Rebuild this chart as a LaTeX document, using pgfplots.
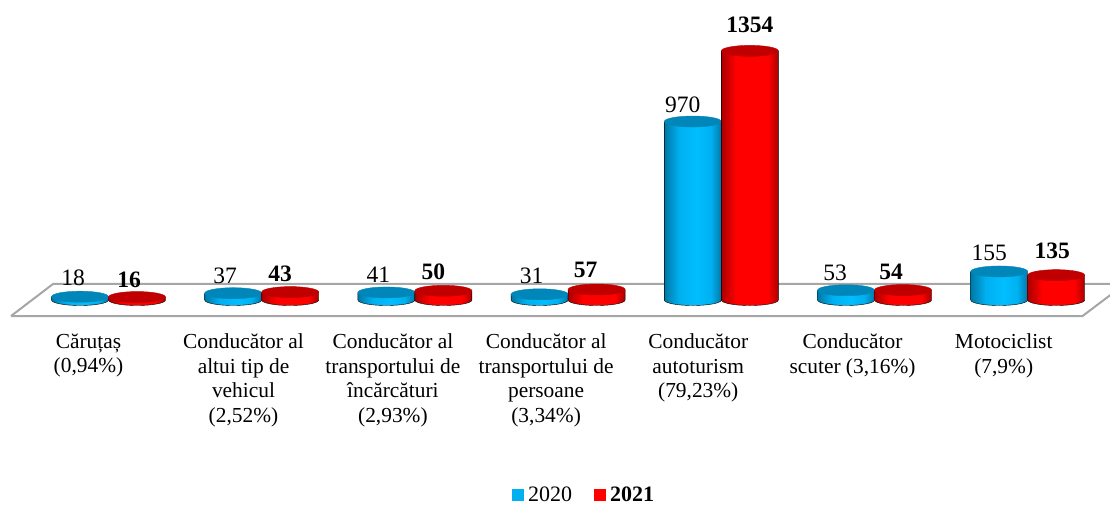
\documentclass[border=0pt]{standalone}
\usepackage{fontspec}
\setmainfont{Liberation Serif}
\usepackage{pgfplots}
\pgfplotsset{compat=1.18}
\definecolor{blueL}{HTML}{00B0F0}
\definecolor{redL}{HTML}{FF0000}
\definecolor{blueTop}{HTML}{0086B8}
\definecolor{redTop}{HTML}{C00000}
\definecolor{blueEdge}{HTML}{0078A6}
\definecolor{redEdge}{HTML}{AA0000}
\definecolor{blueHi}{HTML}{00BEFF}
\pgfdeclarehorizontalshading{cylblue}{100bp}{color(0bp)=(blueEdge);color(25bp)=(blueEdge);color(38bp)=(blueL);color(54bp)=(blueHi);color(66bp)=(blueL);color(75bp)=(blueEdge);color(100bp)=(blueEdge)}
\pgfdeclarehorizontalshading{cylred}{100bp}{color(0bp)=(redEdge);color(25bp)=(redEdge);color(38bp)=(redL);color(54bp)=(redL);color(66bp)=(redL);color(75bp)=(redEdge);color(100bp)=(redEdge)}
\pgfdeclareplotmark{nothing}{}
\pgfplotsset{
  cyl/.style n args={3}{
    forget plot, only marks, scatter, mark=nothing, xshift=#3,
    visualization depends on={value \thisrow{y} \as \barv},
    scatter/@pre marker code/.code={},
    scatter/@post marker code/.code={%
      \pgfmathsetmacro\hh{\barv*0.184}%
      \shade[shading=#1,rotate=4] (-28.5pt,0pt) -- ++(0pt,-\hh pt)
        arc[start angle=180,end angle=360,x radius=28.5pt,y radius=5.5pt]
        -- ++(0pt,\hh pt) -- cycle;
      \fill[#2,rotate=4] (0pt,0pt) ellipse[x radius=28.5pt,y radius=5.5pt];
    },
  },
  vals/.style n args={2}{
    forget plot, only marks, mark=none, xshift=#1,
    visualization depends on={value \thisrow{y} \as \barv},
    visualization depends on={value \thisrow{dx} \as \labdx},
    visualization depends on={value \thisrow{dy} \as \labdy},
    nodes near coords={#2},
    nodes near coords style={anchor=center,xshift=\labdx pt,yshift=\labdy pt,font=\fontsize{23.5}{26}\selectfont},
  },
}
\begin{document}
\begin{tikzpicture}[x=1pt,y=1pt]
\useasboundingbox (0,0) rectangle (1110,505);
\begin{axis}[
  at={(0,0)},anchor=south west,
  x=153.2pt,y=0.184pt,
  xmin=-0.7083,xmax=6.5372,
  ymin=-1114.1,ymax=1630.4,
  axis x line=middle,axis y line=none,
  axis line style={draw=none,-},
  xtick={0.013,1.0248,2.0,3.0,3.993,5.0,5.987},major tick length=0pt,
  xticklabels={{Căruțaș\\(0,94\%)},{Conducător al\\altui tip de\\vehicul\\(2,52\%)},{Conducător al\\transportului de\\încărcături\\(2,93\%)},{Conducător al\\transportului de\\persoane\\(3,34\%)},{Conducător\\autoturism\\(79,23\%)},{Conducător\\scuter (3,16\%)},{Motociclist\\(7,9\%)}},
  xticklabel style={align=center,anchor=north,font=\fontsize{21.4}{24.8}\selectfont,xshift=-22pt,yshift=-30pt},
  legend style={draw=none,fill=none,inner sep=0pt,at={(0.4612,0.0035)},anchor=south west,legend columns=2,font=\fontsize{22}{24}\selectfont,nodes={inner xsep=5pt,inner ysep=0pt},/tikz/every even column/.append style={column sep=17pt}},
  legend cell align=left,
]
\addplot[forget plot,draw=black!35,line width=2pt] coordinates {(-0.6364,-87) (-0.3623,87) (6.6,87)};
\addplot[forget plot,draw=black!35,line width=2pt] coordinates {(-0.6364,-87) (6.3578,-87) (6.635,87)};

\addlegendimage{only marks,mark=square*,mark size=5.5pt,color=blueL}
\addlegendentry{2020}
\addlegendimage{only marks,mark=square*,mark size=5.5pt,color=redL}
\addlegendentry{\textbf{2021}}

\addplot[cyl={cylblue}{blueTop}{-28.5pt}] table {
x y
0 18
1 37
2 41
3 31
4 970
5 53
6 155
};
\addplot[cyl={cylred}{redTop}{28.5pt}] table {
x y
0 16
1 43
2 50
3 57
4 1354
5 54
6 135
};
\addplot[vals={-28.5pt}{\barv}] table {
x y dx dy
0 18 -7 18.7
1 37 -8 17
2 41 -8 17.5
3 31 -8 18
4 970 -10 16.5
5 53 -11 17
6 155 -10 18.5
};
\addplot[vals={28.5pt}{\textbf{\barv}}] table {
x y dx dy
0 16 -8 17
1 43 -10 18
2 50 -10 18.8
3 57 -11 19.5
4 1354 0 26
5 54 -12 18
6 135 -4 24
};
\end{axis}
\end{tikzpicture}
\end{document}
